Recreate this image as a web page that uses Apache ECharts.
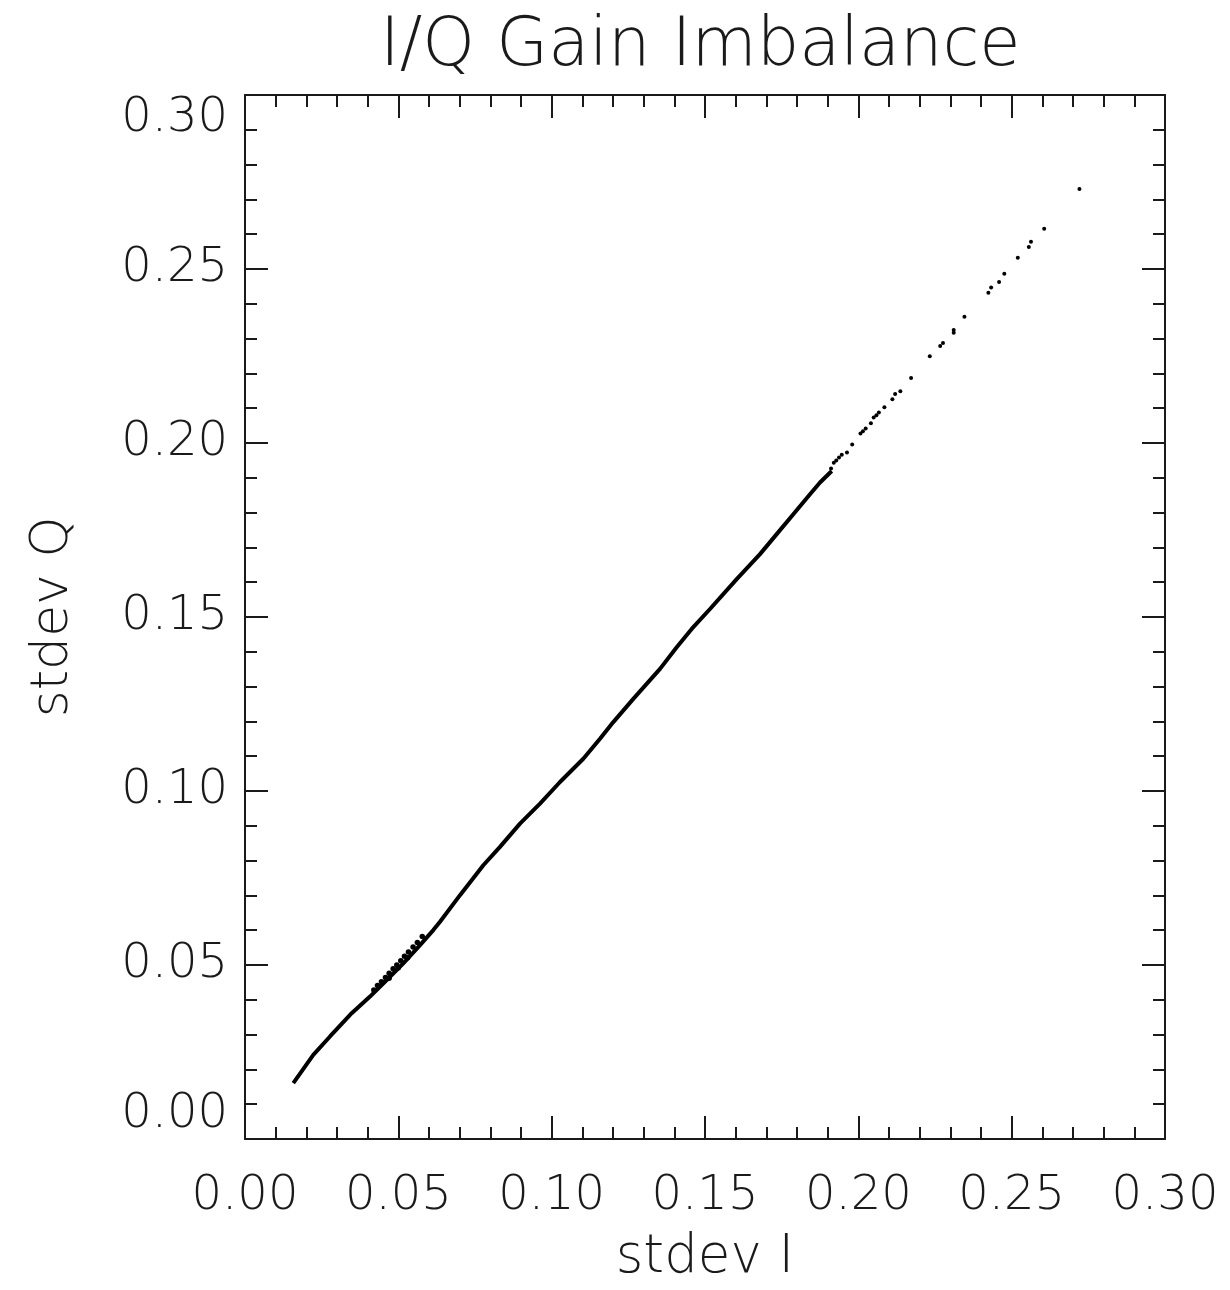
<!DOCTYPE html>
<html><head><meta charset="utf-8">
<script src="https://cdn.jsdelivr.net/npm/echarts@6/dist/echarts.min.js"></script>
<style>html,body{margin:0;padding:0;background:#fff}#c{width:1230px;height:1290px}</style>
</head><body><div id="c"></div>
<script>
const chartTitle = 'I/Q Gain Imbalance';
const xAxisName = 'stdev I';
const yAxisName = 'stdev Q';
const axisMin = 0, axisMax = 0.30, axisStep = 0.05;

// dense part of the cloud (read along its centre)
const denseI = [0.01575,0.02227,0.02772,0.03479,0.04076,0.04621,0.05162,0.05707,0.06140,0.06359,0.07011,0.07771,0.08315,0.08967,0.09620,0.10272,0.11032,0.11576,0.12010,0.12662,0.13533,0.14077,0.14566,0.15163,0.16034,0.16794,0.17338,0.17880,0.18424,0.18750,0.19132];
const denseQ = [0.01606,0.02418,0.02946,0.03614,0.04093,0.04569,0.05048,0.05573,0.06003,0.06244,0.07007,0.07867,0.08395,0.09063,0.09637,0.10259,0.10927,0.11501,0.11980,0.12648,0.13509,0.14131,0.14656,0.15230,0.16090,0.16807,0.17381,0.17954,0.18528,0.18864,0.19196];

// thicker spread around 0.04-0.06
const spreadI = [0.0420,0.0432,0.0445,0.0458,0.0470,0.0483,0.0495,0.0508,0.0520,0.0533,0.0548,0.0562,0.0578,0.0470,0.0500,0.0530];
const spreadQ = [0.0428,0.0441,0.0452,0.0464,0.0476,0.0489,0.0500,0.0512,0.0525,0.0537,0.0552,0.0565,0.0582,0.0462,0.0492,0.0521];

// sparse individual points at the high end
const sparseI = [0.1911,0.1920,0.1928,0.1937,0.1946,0.1963,0.1980,0.2007,0.2015,0.2024,0.2041,0.2050,0.2059,0.2067,0.2085,0.2111,0.2120,0.2137,0.2172,0.2233,0.2267,0.2276,0.2311,0.2311,0.2346,0.2424,0.2433,0.2459,0.2476,0.2520,0.2556,0.2563,0.2606,0.2721];
const sparseQ = [0.1927,0.1943,0.1950,0.1958,0.1966,0.1973,0.1996,0.2027,0.2034,0.2042,0.2057,0.2073,0.2080,0.2088,0.2103,0.2126,0.2141,0.2149,0.2187,0.2249,0.2279,0.2287,0.2317,0.2325,0.2363,0.2432,0.2447,0.2463,0.2486,0.2532,0.2563,0.2578,0.2616,0.2730];

const zip = (a,b) => a.map((v,i)=>[v,b[i]]);
const FONT = 'DejaVu Sans';
const INK = '#1a1a1a';

function makeAxis(pos, showLabel, extra) {
  const a = {
    type: 'value', position: pos, min: axisMin, max: axisMax, interval: axisStep,
    axisLine: { show: true, onZero: false, lineStyle: { color: INK, width: 2 } },
    axisTick: { show: true, inside: true, length: 23, lineStyle: { color: INK, width: 2 } },
    minorTick: { show: true, splitNumber: 5, length: 12, lineStyle: { color: INK, width: 2 } },
    splitLine: { show: false },
    axisLabel: { show: showLabel, formatter: v => v.toFixed(2), fontFamily: FONT, fontWeight: 200, fontSize: 48, color: INK }
  };
  return Object.assign(a, extra || {});
}

const chart = echarts.init(document.getElementById('c'), null, { renderer: 'canvas' });
const xb = makeAxis('bottom', true, { name: xAxisName, nameLocation: 'middle', nameGap: 93,
  nameTextStyle: { fontFamily: FONT, fontWeight: 200, fontSize: 53, color: INK } });
xb.axisLabel.margin = 34;
const yl = makeAxis('left', true, { name: yAxisName, nameLocation: 'middle', nameGap: 166,
  nameTextStyle: { fontFamily: FONT, fontWeight: 200, fontSize: 52, color: INK } });
yl.axisLabel.margin = 17;
yl.axisLabel.verticalAlignMinLabel = 'bottom';
yl.axisLabel.verticalAlignMaxLabel = 'top';

chart.setOption({
  animation: false,
  backgroundColor: '#fff',
  title: { text: chartTitle, left: 375, top: 9,
    textStyle: { fontFamily: FONT, fontWeight: 200, fontSize: 67, color: INK } },
  grid: { left: 245, top: 95, right: 65, bottom: 149 },
  xAxis: [xb, makeAxis('top', false)],
  yAxis: [yl, makeAxis('right', false)],
  series: [
    { type: 'line', data: zip(denseI, denseQ), showSymbol: false, symbol: 'none',
      lineStyle: { color: '#000', width: 4 }, smooth: false },
    { type: 'scatter', data: zip(spreadI, spreadQ), symbolSize: 5.5, itemStyle: { color: '#000', opacity: 1 } },
    { type: 'scatter', data: zip(sparseI, sparseQ), symbolSize: 4, itemStyle: { color: '#000', opacity: 1 } }
  ]
});
</script></body></html>
